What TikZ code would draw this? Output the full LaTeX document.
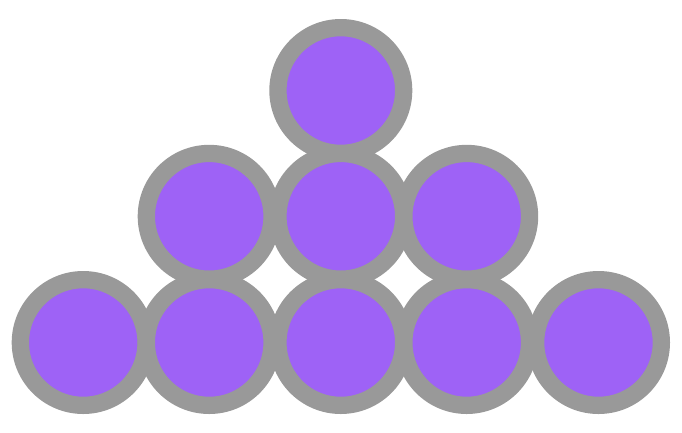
\documentclass[tikz,border=0pt]{standalone}
\definecolor{ballgray}{RGB}{153,153,153}
\definecolor{ballpurple}{RGB}{158,98,246}
\begin{document}
\begin{tikzpicture}[x=1pt,y=-1pt,
  ball/.style={circle,draw=ballgray,fill=ballpurple,line width=17.3pt,
    inner sep=0pt,minimum size=125.7pt}]
\useasboundingbox (0,0) rectangle (682,432);
\node[ball] (b1) at (83.2,342.5) {};
\node[ball] (b2) at (209.2,342.5) {};
\node[ball] (b3) at (340.8,342.5) {};
\node[ball] (b4) at (466.7,342.5) {};
\node[ball] (b5) at (598.5,342.5) {};
\node[ball] (m1) at (209.2,216.3) {};
\node[ball] (m2) at (340.8,216.3) {};
\node[ball] (m3) at (466.7,216.3) {};
\node[ball] (t1) at (340.8,90.5) {};
\end{tikzpicture}
\end{document}
